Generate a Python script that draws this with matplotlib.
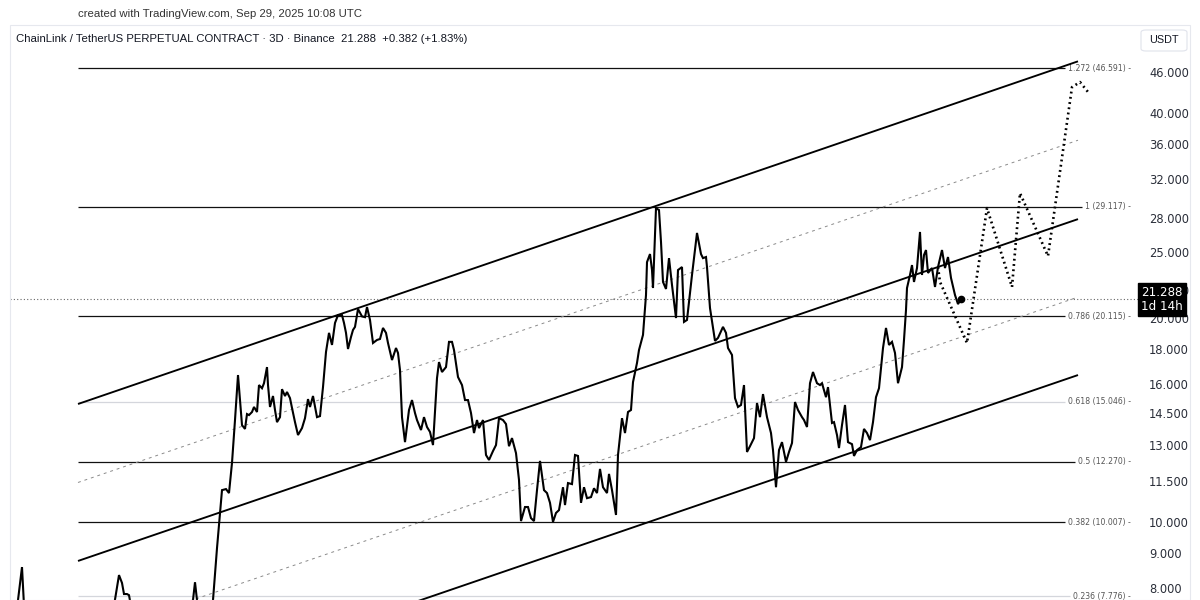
import matplotlib
matplotlib.use("Agg")
import matplotlib.pyplot as plt
import numpy as np
from matplotlib.patches import FancyBboxPatch, Rectangle

# ---------------- data ----------------
bars = [15, 22, 25, 40, 60, 80, 100, 113, 119, 122, 124, 127, 129, 132, 150, 170, 186, 193, 195, 197, 203, 210,
        213, 217, 222, 226, 229, 232, 235, 238, 240, 242, 245, 247, 249, 252, 254, 257, 259, 262, 264, 267, 268,
        270, 273, 275, 277, 280, 282, 285, 287, 290, 292, 295, 298, 302, 305, 308, 310, 313, 317, 320, 323, 326,
        329, 332, 335, 338, 342, 344, 346, 348, 351, 353, 355, 358, 362, 365, 367, 370, 373, 377, 380, 383, 386,
        388, 392, 396, 398, 400, 402, 405, 409, 412, 415, 417, 421, 424, 427, 430, 433, 437, 439, 442, 446, 449,
        452, 454, 458, 462, 465, 468, 471, 474, 477, 479, 483, 486, 489, 493, 496, 499, 503, 506, 509, 512, 516,
        519, 521, 525, 528, 531, 534, 537, 540, 544, 547, 550, 553, 556, 559, 563, 565, 568, 572, 575, 578, 581,
        584, 587, 591, 594, 597, 600, 603, 607, 609, 612, 616, 618, 622, 625, 628, 631, 633, 637, 639, 643, 646,
        647, 650, 652, 653, 656, 659, 661, 663, 666, 669, 672, 676, 678, 682, 684, 687, 692, 697, 701, 703, 706,
        707, 710, 715, 718, 723, 726, 728, 732, 735, 738, 741, 744, 747, 750, 754, 757, 760, 763, 767, 771, 773,
        776, 779, 782, 786, 789, 792, 795, 798, 802, 804, 807, 810, 813, 817, 820, 822, 826, 828, 832, 834, 837,
        839, 842, 845, 848, 852, 854, 857, 861, 864, 867, 870, 873, 876, 879, 883, 886, 889, 892, 895, 898, 902,
        904, 906, 907, 910, 912, 914, 917, 920, 922, 924, 926, 928, 932, 935, 938, 942, 945, 948, 951, 955, 958,
        961]
close = [7.06, 8.59, 7.06, 6.94, 6.71, 7.13, 6.89, 7.38, 8.36, 8.14, 7.84, 7.84, 7.81, 7.38, 6.94, 7.18, 7.23,
         7.68, 8.16, 7.68, 7.06, 7.23,
         7.68, 9.16, 11.15, 11.19, 11.04, 12.23, 14.14, 16.47, 15.13, 13.90, 13.72, 14.43, 14.38, 14.53, 14.78,
         14.53, 15.92, 15.75, 16.02, 16.92, 15.92, 14.78, 15.34, 14.63, 14.04, 14.28, 15.70, 15.34, 15.55, 15.23,
         14.73, 14.04, 13.44, 13.76, 14.23, 15.18, 14.78, 15.34, 14.28, 14.33, 15.81, 17.81, 19.00, 18.24, 19.65,
         20.18, 20.18, 19.65, 19.00, 17.99, 18.74, 19.19, 19.39, 20.60, 20.09, 20.04, 20.74, 19.85, 18.36, 18.55,
         18.61, 19.32, 19.00, 18.36, 17.33, 18.05, 17.75, 16.75, 14.28, 13.12, 14.63, 15.13, 14.48, 14.14, 13.67,
         14.28, 13.81, 13.58, 12.99, 16.30, 17.21, 16.64, 16.92, 18.43, 18.43, 17.93, 16.36, 15.92, 15.13, 15.13,
         14.48, 13.53, 14.14, 13.76, 14.14, 12.56, 12.35, 12.73, 12.99, 14.23, 14.14, 13.95, 12.94, 13.30, 12.64,
         11.54, 10.04, 10.53, 10.53, 10.14, 10.04, 11.15, 12.31, 11.15, 11.04, 10.68, 10.01, 10.32, 10.42, 11.26,
         10.60, 11.42, 11.38, 12.56, 12.52, 10.68, 11.26, 10.85, 10.89, 11.22, 11.04, 11.98, 11.26, 11.04, 11.78,
         11.15, 10.25, 12.56, 14.23, 13.53, 14.53, 14.63, 16.08, 17.16, 17.93, 18.87, 21.60, 24.15, 24.82, 23.51,
         22.12, 29.00, 28.81, 25.86, 22.58, 22.05, 24.48, 22.35, 19.98, 23.51, 23.75, 19.72, 19.85, 23.12, 26.66,
         24.82, 24.48, 24.57, 23.75, 20.67, 18.49, 18.68, 19.39, 19.00, 18.05, 17.63, 15.23, 14.78, 14.88, 15.92,
         12.69, 12.94, 13.30, 14.98, 14.28, 15.44, 14.28, 13.53, 12.77, 11.26, 12.77, 13.12, 12.27, 12.69, 13.08,
         15.03, 14.63, 14.28, 14.14, 13.81, 16.02, 16.64, 16.02, 15.92, 16.02, 15.28, 15.81, 14.00, 14.04, 13.44,
         12.86, 13.90, 14.88, 13.12, 13.03, 12.52, 12.77, 12.90, 13.72, 13.53, 13.21, 14.04, 15.28, 15.75, 18.05,
         19.32, 18.24, 18.43, 17.75, 16.02, 16.92, 18.55, 20.53, 22.12, 23.12, 23.91, 22.58, 23.67, 26.75, 23.12,
         24.74, 25.16, 23.28, 23.67, 22.20, 23.75, 25.16, 23.67, 24.57, 22.89, 21.60, 20.95, 21.288]

last_price = 21.288
proj_bars = [940, 967, 987, 1012, 1020, 1048, 1072, 1080, 1088]
proj_price = [22.58, 18.36, 29.0, 22.20, 30.51, 24.65, 43.7, 44.46, 42.99]

fib_ratio = ["1.272", "1", "0.786", "0.618", "0.5", "0.382", "0.236"]
fib_price = [46.591, 29.117, 20.115, 15.046, 12.270, 10.007, 7.776]
fib_dark = [True, True, True, False, True, True, False]

chan_x = [78, 1078]
chan_upper = [14.93, 47.70]
chan_middle = [8.77, 27.94]
chan_lower = [5.16, 16.47]

yticks = [8, 9, 10, 11.5, 13, 14.5, 16, 18, 20, 22, 25, 28, 32, 36, 40, 46]

# ---------------- figure ----------------
W, H = 1200, 600
fig = plt.figure(figsize=(12, 6), dpi=100)
fig.patch.set_facecolor("white")

def px(x0, y0, w, h):
    return [x0 / W, 1 - (y0 + h) / H, w / W, h / H]

ax = fig.add_axes(px(10, 25, 1128, 575))
ax.set_facecolor("none")
ax.set_yscale("log")
ax.set_xlim(10, 1138)
ax.set_ylim(7.683, 53.95)
for s in ax.spines.values():
    s.set_visible(False)
ax.set_xticks([])
ax.minorticks_off()
ax.yaxis.tick_right()
ax.set_yticks(yticks)
ax.set_yticklabels([f"{v:.3f}" for v in yticks])
ax.yaxis.set_minor_locator(matplotlib.ticker.NullLocator())
ax.tick_params(axis="y", length=0, pad=8, labelsize=8.3, labelcolor="#2a2e39")

# chart border
fig.add_artist(Rectangle((10 / W, 0), 1180 / W, 575 / H, transform=fig.transFigure,
                         fill=False, edgecolor="#e6e8ee", lw=0.8))

# current price dotted line
ax.axhline(last_price, color="#666666", lw=0.8, ls=(0, (1, 2)), zorder=1)

# fib levels with labels
fig.canvas.draw()
renderer = fig.canvas.get_renderer()
inv = ax.transData.inverted()
for r, p, dark in zip(fib_ratio, fib_price, fib_dark):
    t = ax.text(1131, p, f"{r} ({p:.3f}) -", ha="right", va="center", fontsize=5.6,
                color="#555555", clip_on=False, zorder=3)
    bb = t.get_window_extent(renderer)
    xend = inv.transform((bb.x0 - 3, 0))[0]
    ax.plot([78, xend], [p, p], color="#111111" if dark else "#d4d6dc",
            lw=0.9 if dark else 0.9, zorder=2, solid_capstyle="butt")

# channel lines
cx = np.array(chan_x, dtype=float)
for arr in (chan_upper, chan_middle, chan_lower):
    ax.plot(cx, arr, color="black", lw=1.35, zorder=3, solid_capstyle="butt")
mid1 = np.sqrt(np.array(chan_upper) * np.array(chan_middle))
mid2 = np.sqrt(np.array(chan_middle) * np.array(chan_lower))
for arr in (mid1, mid2):
    ax.plot(cx, arr, color="#8a8a8a", lw=0.7, ls=(0, (3, 4)), zorder=2)

# price line
ax.plot(bars, close, color="black", lw=1.5, zorder=5, solid_joinstyle="miter")
ax.plot([bars[-1]], [close[-1]], marker="o", ms=4.5, color="black", zorder=6)

# projection
ax.plot([bars[-8]] + proj_bars[:0] + proj_bars, [close[-8]] + proj_price, color="black", lw=1.9,
        ls=(0, (0.7, 1.3)), zorder=4)

# price box on axis
ax.text(1162, last_price, "21.288\n1d 14h", ha="center", va="center", fontsize=8.6,
        color="white", linespacing=1.05, clip_on=False, zorder=10,
        bbox=dict(boxstyle="square,pad=0.25", fc="black", ec="black"))

# header texts
fig.text(78 / W, 1 - 14 / H, "created with TradingView.com, Sep 29, 2025 10:08 UTC",
         ha="left", va="center", fontsize=8.2, color="#333333", family="Liberation Sans")
fig.text(16 / W, 1 - 39 / H,
         "ChainLink / TetherUS PERPETUAL CONTRACT · 3D · Binance  21.288  +0.382 (+1.83%)",
         ha="left", va="center", fontsize=8.2, color="#131722", family="Liberation Sans")

# USDT box
fig.add_artist(FancyBboxPatch((1141 / W, 1 - 51 / H), 46 / W, 21 / H,
                              boxstyle="round,pad=0,rounding_size=0.004",
                              transform=fig.transFigure, fc="white", ec="#e0e3eb", lw=0.8))
fig.text(1164 / W, 1 - 40 / H, "USDT", ha="center", va="center", fontsize=7.8,
         color="#131722", family="Liberation Sans")

fig.savefig("out.png", dpi=100, facecolor="white")
